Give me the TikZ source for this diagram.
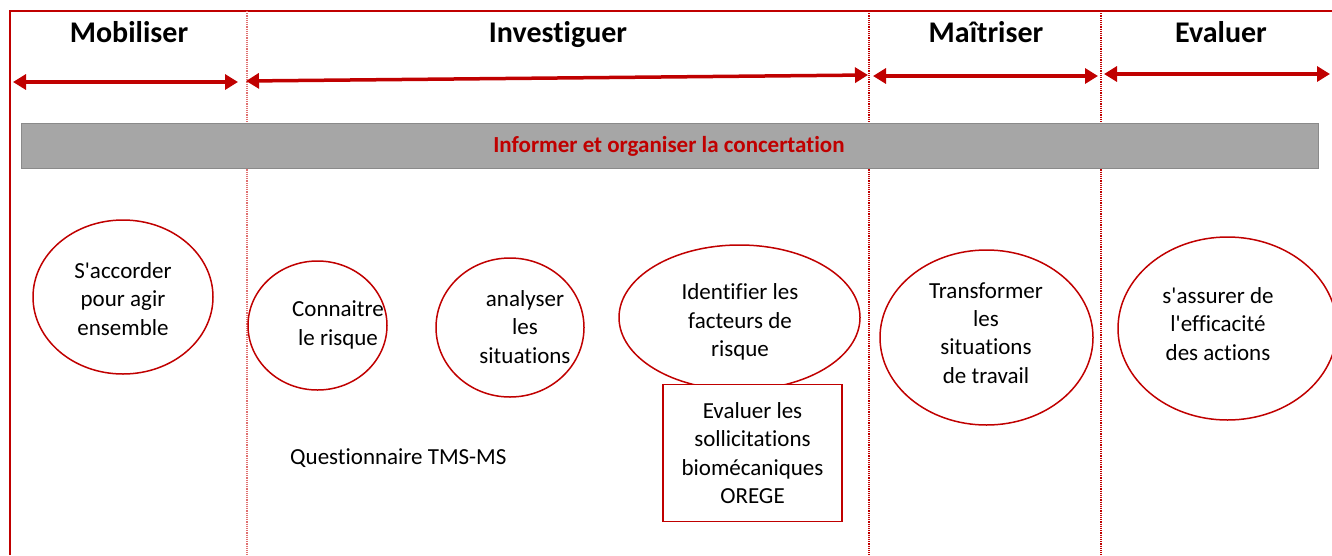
\documentclass[tikz,border=0pt]{standalone}
\usepackage{fontspec}
\setmainfont{Carlito}[Ligatures=NoCommon]
\usetikzlibrary{arrows.meta,shapes.geometric}
\definecolor{dred}{HTML}{C00000}
\definecolor{lred}{HTML}{E07070}
\definecolor{bargray}{HTML}{A6A6A6}
\definecolor{bargrayb}{HTML}{8A8A8A}
\begin{document}
\begin{tikzpicture}[x=1pt,y=-1pt,
  title/.style={font=\bfseries\fontsize{30}{33}\selectfont, inner sep=0pt, anchor=base},
  body/.style={font=\fontsize{23}{28.3}\selectfont, align=center, inner sep=0pt},
  ell/.style={draw=dred, line width=1.5pt, ellipse, fill=none},
  phase/.style={draw=dred, line width=3.5pt, {Triangle[length=13pt,width=15pt]}-{Triangle[length=13pt,width=15pt]}},
  divider/.style={draw=dred, line width=1.3pt, dash pattern=on 1.2pt off 1pt},
  stepbox/.style={draw=dred, line width=1.5pt, fill=white, minimum width=179pt, minimum height=137pt, align=center, font=\fontsize{23}{28.3}\selectfont, inner sep=0pt}
]
\useasboundingbox (0,0) rectangle (1332,555);
% frame
\draw[dred, line width=2pt] (10,555) -- (10,11) -- (1332,11);
% dividers
\draw[divider, draw=lred] (247,11) -- (247,555);
\draw[divider] (869,11) -- (869,555);
\draw[divider] (1101,11) -- (1101,555);
% titles
\node[title] (mob) at (129,42) {Mobiliser};
\node[title] (inv) at (558,42) {Investiguer};
\node[title] (mai) at (986,42) {Maîtriser};
\node[title] (eva) at (1221,42) {Evaluer};
% arrows
\coordinate (a1l) at (13,82);  \coordinate (a1r) at (238,82);
\coordinate (a2l) at (246,81); \coordinate (a2r) at (868,75);
\coordinate (a3l) at (873,76); \coordinate (a3r) at (1098,76);
\coordinate (a4l) at (1104,74); \coordinate (a4r) at (1330,74);
\draw[phase] (a1l) -- (a1r);
\draw[phase] (a2l) -- (a2r);
\draw[phase] (a3l) -- (a3r);
\draw[phase] (a4l) -- (a4r);
% banner
\node[draw=bargrayb, fill=bargray, line width=1pt, minimum width=1297pt, minimum height=45pt, inner sep=0pt] (bar) at (669.5,145.5) {};
\node[text=dred, font=\bfseries\fontsize{23}{26}\selectfont, inner sep=0pt] (bart) at (669,146) {Informer et organiser la concertation};
% ellipses
\node[ell, minimum width=180pt, minimum height=154pt] (e1) at (123,297) {};
\node[body] (t1) at (123,299) {S\textquotesingle accorder\\pour agir\\ensemble};
\node[ell, minimum width=139pt, minimum height=129pt] (e2) at (317.5,325.5) {};
\node[body] (t2) at (338,325) {Connaitre\\le risque};
\node[ell, minimum width=148pt, minimum height=139pt] (e3) at (510,327.5) {};
\node[body] (t3) at (525,327) {analyser\\les\\situations};
\node[ell, minimum width=241pt, minimum height=145pt] (e4) at (739.5,317.5) {};
\node[body] (t4) at (740,322) {Identifier les\\facteurs de\\risque};
\node[ell, minimum width=213pt, minimum height=175pt] (e5) at (986.5,337.5) {};
\node[body] (t5) at (986,333) {Transformer\\les\\situations\\de travail};
\node[ell, minimum width=219pt, minimum height=183pt] (e6) at (1227.5,328.5) {};
\node[body] (t6) at (1218,324) {s\textquotesingle assurer de\\l\textquotesingle efficacité\\des actions};
% box
\node[stepbox] (orege) at (752.5,453) {Evaluer les\\sollicitations\\biomécaniques\\OREGE};
% questionnaire
\node[body, anchor=west] (quest) at (290,458) {Questionnaire TMS-MS};
\end{tikzpicture}
\end{document}
